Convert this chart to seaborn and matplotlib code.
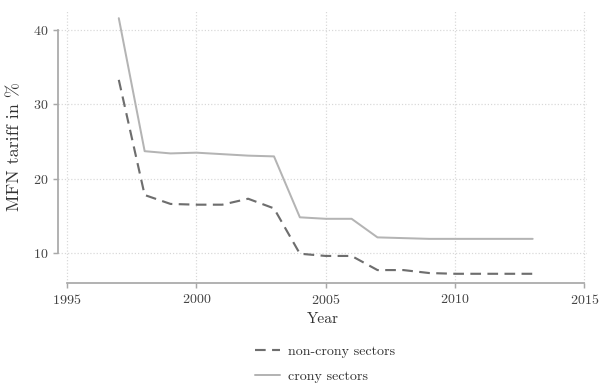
import matplotlib
matplotlib.use("Agg")
import matplotlib.pyplot as plt
import seaborn as sns
import pandas as pd

years = list(range(1997, 2014))
non_crony = [33.3, 17.8, 16.6, 16.5, 16.5, 17.3, 16.0, 9.9, 9.6, 9.6, 7.7, 7.7, 7.3, 7.2, 7.2, 7.2, 7.2]
crony = [41.6, 23.7, 23.4, 23.5, 23.3, 23.1, 23.0, 14.8, 14.6, 14.6, 12.1, 12.0, 11.9, 11.9, 11.9, 11.9, 11.9]
x_ticks = [1995, 2000, 2005, 2010, 2015]
y_ticks = [10, 20, 30, 40]

sns.set_style("white")
plt.rcParams["font.family"] = ["cmr10", "DejaVu Serif"]
plt.rcParams["axes.formatter.use_mathtext"] = True

df = pd.DataFrame({"year": years, "non_crony": non_crony, "crony": crony})

fig = plt.figure(figsize=(6.25, 4), dpi=96)
ax = fig.add_axes([58 / 600, 1 - 283 / 384, (587 - 58) / 600, (283 - 10) / 384])

sns.lineplot(data=df, x="year", y="non_crony", ax=ax, color="#6e6e6e", lw=1.6,
             linestyle=(0, (5, 3)), label="non-crony sectors")
sns.lineplot(data=df, x="year", y="crony", ax=ax, color="#b4b4b4", lw=1.5,
             label="crony sectors")

ax.set_xlim(1994.65, 2015.1)
ax.set_ylim(5.96, 42.7)
ax.set_xticks(x_ticks)
ax.set_yticks(y_ticks)
ax.grid(True, linestyle=":", color="#d8d8d8", lw=0.9)

for side in ["top", "right"]:
    ax.spines[side].set_visible(False)
ax.spines["left"].set_bounds(10, 40)
ax.spines["bottom"].set_bounds(1995, 2015)
for side in ["left", "bottom"]:
    ax.spines[side].set_color("#a8a8a8")
    ax.spines[side].set_linewidth(1.3)
ax.tick_params(axis="both", colors="#a8a8a8", labelcolor="#444444", labelsize=10.5,
               length=4, width=1.1, left=True, bottom=True)

ax.set_xlabel("Year", fontsize=11.5, color="#333333", labelpad=4)
ax.set_ylabel("MFN tariff in %", fontsize=13.5, color="#333333", labelpad=8)

ax.legend(loc="upper center", bbox_to_anchor=(0.505, -0.183), frameon=False,
          fontsize=10.5, handlelength=1.8, handletextpad=0.6, labelspacing=0.85,
          labelcolor="#333333")

fig.savefig("out.png", dpi=96)
